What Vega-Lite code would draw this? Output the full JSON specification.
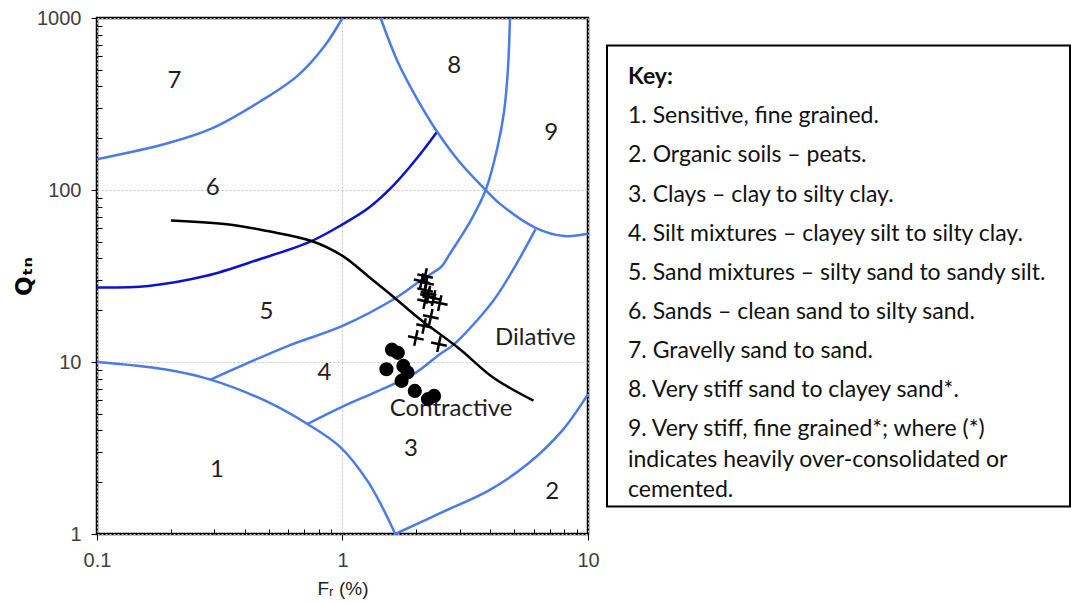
{
  "$schema": "https://vega.github.io/schema/vega-lite/v6.json",
  "background": "white",
  "padding": {"left": 12, "top": 6, "right": 0, "bottom": 0},
  "config": {"font": "Lato"},
  "datasets": {
    "curves": [
      {"id": "A", "c": "light", "k": 0, "x": 0.1, "y": 151},
      {"id": "A", "c": "light", "k": 1, "x": 0.194, "y": 187},
      {"id": "A", "c": "light", "k": 2, "x": 0.294, "y": 228},
      {"id": "A", "c": "light", "k": 3, "x": 0.46, "y": 326},
      {"id": "A", "c": "light", "k": 4, "x": 0.659, "y": 464},
      {"id": "A", "c": "light", "k": 5, "x": 0.848, "y": 692},
      {"id": "A", "c": "light", "k": 6, "x": 1.0, "y": 1000},
      {"id": "B", "c": "dark", "k": 0, "x": 0.1, "y": 27.1},
      {"id": "B", "c": "dark", "k": 1, "x": 0.162, "y": 27.7},
      {"id": "B", "c": "dark", "k": 2, "x": 0.279, "y": 31.7},
      {"id": "B", "c": "dark", "k": 3, "x": 0.46, "y": 39.6},
      {"id": "B", "c": "dark", "k": 4, "x": 0.748, "y": 50.5},
      {"id": "B", "c": "dark", "k": 5, "x": 1.0, "y": 63.1},
      {"id": "B", "c": "dark", "k": 6, "x": 1.28, "y": 78.8},
      {"id": "B", "c": "dark", "k": 7, "x": 1.62, "y": 107},
      {"id": "B", "c": "dark", "k": 8, "x": 2.01, "y": 153},
      {"id": "B", "c": "dark", "k": 9, "x": 2.43, "y": 218},
      {"id": "C", "c": "light", "k": 0, "x": 1.43, "y": 1000},
      {"id": "C", "c": "light", "k": 1, "x": 1.68, "y": 555},
      {"id": "C", "c": "light", "k": 2, "x": 2.01, "y": 340},
      {"id": "C", "c": "light", "k": 3, "x": 2.43, "y": 218},
      {"id": "C", "c": "light", "k": 4, "x": 2.98, "y": 147},
      {"id": "C", "c": "light", "k": 5, "x": 3.83, "y": 100},
      {"id": "C", "c": "light", "k": 6, "x": 4.42, "y": 82.2},
      {"id": "C", "c": "light", "k": 7, "x": 6.11, "y": 60.3},
      {"id": "C", "c": "light", "k": 8, "x": 8.0, "y": 54},
      {"id": "C", "c": "light", "k": 9, "x": 10, "y": 55.7},
      {"id": "D", "c": "light", "k": 0, "x": 4.81, "y": 1000},
      {"id": "D", "c": "light", "k": 1, "x": 4.72, "y": 507},
      {"id": "D", "c": "light", "k": 2, "x": 4.55, "y": 285},
      {"id": "D", "c": "light", "k": 3, "x": 4.27, "y": 175},
      {"id": "D", "c": "light", "k": 4, "x": 3.83, "y": 100},
      {"id": "D", "c": "light", "k": 5, "x": 3.32, "y": 66},
      {"id": "D", "c": "light", "k": 6, "x": 2.72, "y": 42},
      {"id": "D", "c": "light", "k": 7, "x": 2.54, "y": 36.1},
      {"id": "D", "c": "light", "k": 8, "x": 2.3, "y": 32.6},
      {"id": "D", "c": "light", "k": 9, "x": 2.07, "y": 29.6},
      {"id": "D", "c": "light", "k": 10, "x": 1.66, "y": 23.7},
      {"id": "D", "c": "light", "k": 11, "x": 1.0, "y": 16.2},
      {"id": "D", "c": "light", "k": 12, "x": 0.591, "y": 12.3},
      {"id": "D", "c": "light", "k": 13, "x": 0.29, "y": 7.9},
      {"id": "E", "c": "light", "k": 0, "x": 6.11, "y": 59},
      {"id": "E", "c": "light", "k": 1, "x": 5.1, "y": 37},
      {"id": "E", "c": "light", "k": 2, "x": 4.12, "y": 22.8},
      {"id": "E", "c": "light", "k": 3, "x": 2.85, "y": 12.7},
      {"id": "E", "c": "light", "k": 4, "x": 2.49, "y": 11.1},
      {"id": "E", "c": "light", "k": 5, "x": 1.94, "y": 8.47},
      {"id": "E", "c": "light", "k": 6, "x": 1.4, "y": 6.8},
      {"id": "E", "c": "light", "k": 7, "x": 1.0, "y": 5.5},
      {"id": "E", "c": "light", "k": 8, "x": 0.72, "y": 4.36},
      {"id": "F", "c": "light", "k": 0, "x": 0.1, "y": 10},
      {"id": "F", "c": "light", "k": 1, "x": 0.188, "y": 9.07},
      {"id": "F", "c": "light", "k": 2, "x": 0.29, "y": 7.9},
      {"id": "F", "c": "light", "k": 3, "x": 0.491, "y": 5.9},
      {"id": "F", "c": "light", "k": 4, "x": 0.72, "y": 4.36},
      {"id": "F", "c": "light", "k": 5, "x": 0.98, "y": 3.2},
      {"id": "F", "c": "light", "k": 6, "x": 1.26, "y": 2.05},
      {"id": "F", "c": "light", "k": 7, "x": 1.45, "y": 1.44},
      {"id": "F", "c": "light", "k": 8, "x": 1.64, "y": 1},
      {"id": "G", "c": "light", "k": 0, "x": 1.64, "y": 1},
      {"id": "G", "c": "light", "k": 1, "x": 2.49, "y": 1.32},
      {"id": "G", "c": "light", "k": 2, "x": 3.97, "y": 1.8},
      {"id": "G", "c": "light", "k": 3, "x": 5.69, "y": 2.56},
      {"id": "G", "c": "light", "k": 4, "x": 7.85, "y": 3.99},
      {"id": "G", "c": "light", "k": 5, "x": 10, "y": 6.5},
      {"id": "H", "c": "black", "k": 0, "x": 0.2, "y": 66.5},
      {"id": "H", "c": "black", "k": 1, "x": 0.345, "y": 63.1},
      {"id": "H", "c": "black", "k": 2, "x": 0.494, "y": 57.7},
      {"id": "H", "c": "black", "k": 3, "x": 0.748, "y": 50.5},
      {"id": "H", "c": "black", "k": 4, "x": 1.0, "y": 41.4},
      {"id": "H", "c": "black", "k": 5, "x": 1.29, "y": 31},
      {"id": "H", "c": "black", "k": 6, "x": 1.62, "y": 23.8},
      {"id": "H", "c": "black", "k": 7, "x": 2.07, "y": 17.7},
      {"id": "H", "c": "black", "k": 8, "x": 3.0, "y": 11.9},
      {"id": "H", "c": "black", "k": 9, "x": 4.12, "y": 8.1},
      {"id": "H", "c": "black", "k": 10, "x": 6.0, "y": 5.96}
    ],
    "circles": [
      {"x": 1.59, "y": 11.8}, {"x": 1.68, "y": 11.3}, {"x": 1.51, "y": 9.08},
      {"x": 1.77, "y": 9.49}, {"x": 1.84, "y": 8.68}, {"x": 1.74, "y": 7.76},
      {"x": 1.97, "y": 6.79}, {"x": 2.23, "y": 6.08}, {"x": 2.36, "y": 6.35}
    ],
    "crosses": [
      {"x": 2.17, "y": 31.6}, {"x": 2.1, "y": 29.5}, {"x": 2.19, "y": 28.8},
      {"x": 2.17, "y": 26.2}, {"x": 2.24, "y": 25}, {"x": 2.23, "y": 24.2},
      {"x": 2.17, "y": 22.6}, {"x": 2.49, "y": 22.0}, {"x": 2.35, "y": 23.5},
      {"x": 2.29, "y": 18.3}, {"x": 2.15, "y": 16.2}, {"x": 1.99, "y": 13.8},
      {"x": 2.47, "y": 12.7}
    ],
    "labels": [
      {"x": 0.207, "y": 430, "t": "7"}, {"x": 2.85, "y": 525, "t": "8"},
      {"x": 7.08, "y": 214, "t": "9"}, {"x": 0.296, "y": 103, "t": "6"},
      {"x": 0.49, "y": 19.5, "t": "5"}, {"x": 0.845, "y": 8.6, "t": "4"},
      {"x": 1.9, "y": 3.12, "t": "3"}, {"x": 0.308, "y": 2.36, "t": "1"},
      {"x": 7.14, "y": 1.75, "t": "2"}, {"x": 6.1, "y": 13.7, "t": "Dilative"},
      {"x": 2.77, "y": 5.3, "t": "Contractive"}
    ],
    "keyitems": [
      {"i": 1, "t": "1. Sensitive, fine grained."},
      {"i": 2, "t": "2. Organic soils – peats."},
      {"i": 3, "t": "3. Clays – clay to silty clay."},
      {"i": 4, "t": "4. Silt mixtures – clayey silt to silty clay."},
      {"i": 5, "t": "5. Sand mixtures – silty sand to sandy silt."},
      {"i": 6, "t": "6. Sands – clean sand to silty sand."},
      {"i": 7, "t": "7. Gravelly sand to sand."},
      {"i": 8, "t": "8. Very stiff sand to clayey sand*."},
      {"i": 9, "t": "9. Very stiff, fine grained*; where (*)\nindicates heavily over-consolidated or\ncemented."}
    ]
  },
  "hconcat": [
    {
      "width": 491,
      "height": 516,
      "view": {"stroke": "black", "strokeWidth": 2.5},
      "resolve": {"axis": {"x": "independent", "y": "independent"}},
      "layer": [
        {
          "data": {"name": "curves"},
          "mark": {"type": "line", "strokeWidth": 2.5, "interpolate": "catmull-rom"},
          "encoding": {
            "x": {
              "field": "x", "type": "quantitative",
              "scale": {"type": "log", "domain": [0.1, 10], "nice": false},
              "axis": {
                "orient": "bottom", "values": [0.1, 1, 10], "format": "~g",
                "grid": true, "gridColor": "#c4c4c4", "gridDash": [2, 2], "gridWidth": 1,
                "domain": false, "ticks": true, "tickSize": 6, "tickColor": "black", "tickWidth": 1,
                "labelFont": "Liberation Sans", "labelFontSize": 20, "labelColor": "#404040",
                "labelPadding": 10, "labelFlush": false, "labelOverlap": false,
                "title": "Fᵣ (%)", "titleFont": "Liberation Sans", "titleFontSize": 19,
                "titleFontWeight": "normal", "titleColor": "#222222", "titlePadding": 9
              }
            },
            "y": {
              "field": "y", "type": "quantitative",
              "scale": {"type": "log", "domain": [1, 1000], "nice": false},
              "axis": {
                "orient": "left", "values": [1, 10, 100, 1000], "format": "~g",
                "grid": true, "gridColor": "#c4c4c4", "gridDash": [2, 2], "gridWidth": 1,
                "domain": false, "ticks": true, "tickSize": 6, "tickColor": "black", "tickWidth": 1,
                "labelFont": "Liberation Sans", "labelFontSize": 20, "labelColor": "#404040",
                "labelPadding": 10, "labelFlush": false, "labelOverlap": false,
                "title": "Qₜₙ", "titleFont": "DejaVu Sans", "titleFontSize": 23,
                "titleFontWeight": "bold", "titleColor": "black", "titlePadding": 0
              }
            },
            "color": {
              "field": "c", "type": "nominal",
              "scale": {"domain": ["light", "dark", "black"], "range": ["#4a7be8", "#0c14c8", "#000000"]},
              "legend": null
            },
            "detail": {"field": "id"},
            "order": {"field": "k", "type": "quantitative"}
          }
        },
        {
          "data": {"name": "labels"},
          "mark": {"type": "text", "font": "Lato", "fontSize": 24, "color": "#1e1e1e", "align": "center", "baseline": "middle"},
          "encoding": {
            "x": {"field": "x", "type": "quantitative", "scale": {"type": "log", "domain": [0.1, 10], "nice": false}, "axis": null},
            "y": {"field": "y", "type": "quantitative", "scale": {"type": "log", "domain": [1, 1000], "nice": false}, "axis": null},
            "text": {"field": "t"}
          }
        },
        {
          "data": {"name": "circles"},
          "mark": {"type": "point", "shape": "circle", "filled": true, "color": "black", "opacity": 1, "size": 200},
          "encoding": {
            "x": {
              "field": "x", "type": "quantitative",
              "scale": {"type": "log", "domain": [0.1, 10], "nice": false},
              "axis": {
                "orient": "bottom",
                "values": [0.2, 0.3, 0.4, 0.5, 0.6, 0.7, 0.8, 0.9, 2, 3, 4, 5, 6, 7, 8, 9],
                "labels": false, "domain": false, "grid": false, "ticks": true,
                "tickSize": -5, "tickColor": "black", "tickWidth": 1, "title": null
              }
            },
            "y": {
              "field": "y", "type": "quantitative",
              "scale": {"type": "log", "domain": [1, 1000], "nice": false},
              "axis": {
                "orient": "left",
                "values": [2, 3, 4, 5, 6, 7, 8, 9, 20, 30, 40, 50, 60, 70, 80, 90, 200, 300, 400, 500, 600, 700, 800, 900],
                "labels": false, "domain": false, "grid": false, "ticks": true,
                "tickSize": -5, "tickColor": "black", "tickWidth": 1, "title": null
              }
            }
          }
        },
        {
          "data": {"name": "crosses"},
          "mark": {"type": "point", "shape": "M-1,0L1,0M0,-1L0,1", "filled": false, "stroke": "black", "strokeWidth": 2.5, "opacity": 1, "size": 256, "angle": 12},
          "encoding": {
            "x": {"field": "x", "type": "quantitative", "scale": {"type": "log", "domain": [0.1, 10], "nice": false}, "axis": null},
            "y": {"field": "y", "type": "quantitative", "scale": {"type": "log", "domain": [1, 1000], "nice": false}, "axis": null}
          }
        }
      ]
    },
    {
      "width": 463,
      "height": 461,
      "view": {"stroke": "black", "strokeWidth": 2},
      "layer": [
        {
          "data": {"values": [{"i": 0, "t": "Key:"}]},
          "mark": {"type": "text", "align": "left", "baseline": "alphabetic", "font": "Lato", "fontSize": 23, "fontWeight": "bold", "color": "#111111"},
          "encoding": {
            "x": {"value": 21},
            "y": {"field": "i", "type": "ordinal", "scale": {"type": "point", "padding": 0, "domain": [0, 1, 2, 3, 4, 5, 6, 7, 8, 9], "range": [38.8, 390.5]}, "axis": null},
            "text": {"field": "t"}
          }
        },
        {
          "data": {"name": "keyitems"},
          "mark": {"type": "text", "align": "left", "baseline": "alphabetic", "font": "Lato", "fontSize": 23, "color": "#111111", "lineBreak": "\n", "lineHeight": 30.5},
          "encoding": {
            "x": {"value": 21},
            "y": {"field": "i", "type": "ordinal", "scale": {"type": "point", "padding": 0, "domain": [0, 1, 2, 3, 4, 5, 6, 7, 8, 9], "range": [38.8, 390.5]}, "axis": null},
            "text": {"field": "t"}
          }
        }
      ]
    }
  ],
  "spacing": 19,
  "bounds": "flush",
  "center": true
}
